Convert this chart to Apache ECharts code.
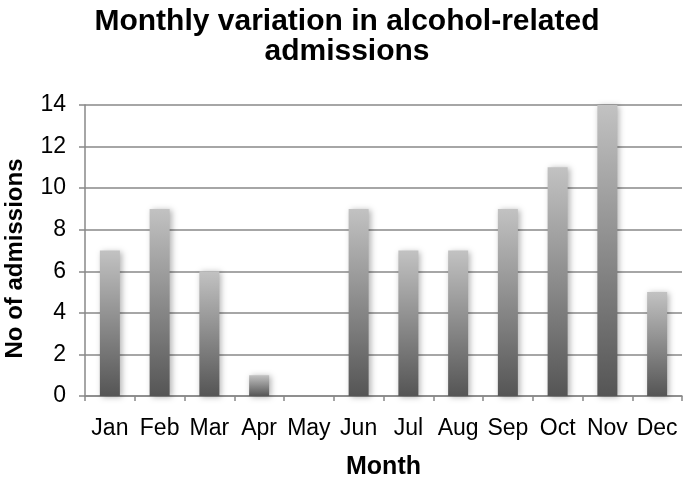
<!DOCTYPE html>
<html>
<head>
<meta charset="utf-8">
<script src="https://cdn.jsdelivr.net/npm/echarts@6/dist/echarts.min.js"></script>
<style>
html,body{margin:0;padding:0;background:#fff;}
#chart{width:685px;height:477px;}
</style>
</head>
<body>
<div id="chart"></div>
<script>
var titleText = 'Monthly variation in alcohol-related\nadmissions';
var categories = ['Jan','Feb','Mar','Apr','May','Jun','Jul','Aug','Sep','Oct','Nov','Dec'];
var admissions = [7, 9, 6, 1, 0, 9, 7, 7, 9, 11, 14, 5];
var yTicks = {min: 0, max: 14, interval: 2};
var xName = 'Month';
var yName = 'No of admissions';

var font = 'Arial, "Liberation Sans", Helvetica, sans-serif';
var chart = echarts.init(document.getElementById('chart'), null, {renderer: 'canvas'});
chart.setOption({
  backgroundColor: '#ffffff',
  animation: false,
  title: {
    text: titleText,
    left: 342, top: 2, textAlign: 'center',
    textStyle: {fontFamily: font, fontWeight: 'bold', fontSize: 30, lineHeight: 30, color: '#000'}
  },
  grid: {left: 85, right: 3, top: 105, bottom: 81, containLabel: false, outerBoundsMode: 'none'},
  xAxis: {
    type: 'category',
    data: categories,
    name: xName,
    nameLocation: 'middle',
    nameGap: 59,
    nameTextStyle: {fontFamily: font, fontWeight: 'bold', fontSize: 25, color: '#000'},
    axisLine: {lineStyle: {color: '#888', width: 1.5}},
    axisTick: {show: true, length: 5, lineStyle: {color: '#888', width: 1.5}},
    axisLabel: {fontFamily: font, fontSize: 23, color: '#000', margin: 21, interval: 0},
    splitLine: {show: false}
  },
  yAxis: {
    type: 'value',
    min: yTicks.min, max: yTicks.max, interval: yTicks.interval,
    name: yName,
    nameLocation: 'middle',
    nameGap: 58,
    nameRotate: 90,
    nameTextStyle: {fontFamily: font, fontWeight: 'bold', fontSize: 24, color: '#000', padding: [0, 16, 0, 0]},
    axisLine: {show: true, lineStyle: {color: '#888', width: 1.5}},
    axisTick: {show: true, length: 6, lineStyle: {color: '#888', width: 1.5}},
    axisLabel: {fontFamily: font, fontSize: 23, color: '#000', margin: 19},
    splitLine: {show: true, lineStyle: {color: '#888', width: 1.5}}
  },
  series: [{
    type: 'bar',
    data: admissions,
    barWidth: 20,
    itemStyle: {
      color: new echarts.graphic.LinearGradient(0, 0, 0, 1, [
        {offset: 0, color: '#c2c2c2'},
        {offset: 1, color: '#555555'}
      ]),
      shadowBlur: 6,
      shadowOffsetX: 2,
      shadowOffsetY: 1,
      shadowColor: 'rgba(0,0,0,0.3)'
    }
  }]
});
</script>
</body>
</html>
